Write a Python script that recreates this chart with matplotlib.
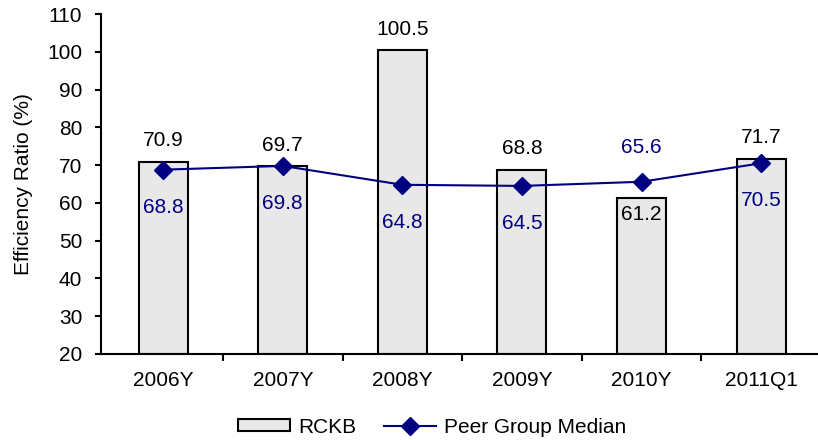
import numpy as np
import matplotlib.pyplot as plt

plt.rcParams['font.family'] = ['Liberation Sans', 'DejaVu Sans']

categories = ["2006Y", "2007Y", "2008Y", "2009Y", "2010Y", "2011Q1"]
rckb = [70.9, 69.7, 100.5, 68.8, 61.2, 71.7]
peer = [68.8, 69.8, 64.8, 64.5, 65.6, 70.5]

navy = "#000080"
fs = 15
x = np.arange(len(categories))

fig = plt.figure(figsize=(8.18, 4.40), dpi=100)
ax = fig.add_axes([0.1235, 0.1955, 0.88, 0.7725])

b = ax.bar(x, [v - 20 for v in rckb], bottom=20, width=0.41,
           color="#e8e8e8", edgecolor="black", linewidth=1.5, label="RCKB", zorder=2)
ln, = ax.plot(x, peer, color=navy, marker="D", markersize=9, linewidth=1.5,
              label="Peer Group Median", zorder=3)

# bar value labels (2010 sits inside its bar)
for i, v in enumerate(rckb):
    off = -11.5 if categories[i] == "2010Y" else 15
    ax.annotate(f"{v:.1f}", (x[i], v), xytext=(0, off), textcoords="offset points",
                ha="center", va="center", fontsize=fs)

# peer value labels (2010 sits above its marker)
for i, v in enumerate(peer):
    off = 25 if categories[i] == "2010Y" else -27
    ax.annotate(f"{v:.1f}", (x[i], v), xytext=(0, off), textcoords="offset points",
                ha="center", va="center", fontsize=fs, color=navy)

ax.set_ylim(20, 110)
ax.set_yticks(range(20, 111, 10))
ax.set_xlim(-0.52, len(categories) - 0.5)
ax.set_xticks(x)
ax.set_xticklabels(categories, fontsize=fs)
ax.set_xticks(np.arange(0.5, len(categories) - 0.5, 1), minor=True)
ax.tick_params(axis="x", which="major", length=0, pad=12)
ax.tick_params(axis="x", which="minor", length=5, width=1.5, direction="out")
ax.tick_params(axis="y", labelsize=fs, length=4.5, width=1.5, direction="out", pad=9)
ax.set_ylabel("Efficiency Ratio (%)", fontsize=fs, labelpad=10)

for s in ["top", "right"]:
    ax.spines[s].set_visible(False)
for s in ["left", "bottom"]:
    ax.spines[s].set_linewidth(1.5)

ax.legend([b, ln], ["RCKB", "Peer Group Median"], loc="center",
          bbox_to_anchor=(0.46, -0.215), ncol=2, frameon=False,
          fontsize=fs, handlelength=2.5, handleheight=0.55,
          columnspacing=1.3, handletextpad=0.4)

fig.savefig("out.png", dpi=100)
